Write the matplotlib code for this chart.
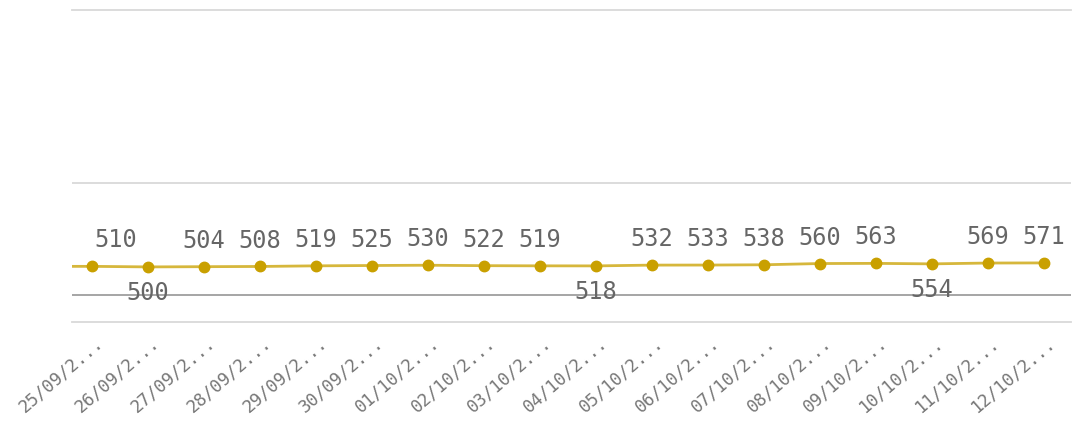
import matplotlib
matplotlib.use("Agg")
import matplotlib.pyplot as plt
from matplotlib.transforms import ScaledTranslation

# daily values, the first one sits just left of the visible window
dates = ["24/09/2...", "25/09/2...", "26/09/2...", "27/09/2...", "28/09/2...", "29/09/2...",
         "30/09/2...", "01/10/2...", "02/10/2...", "03/10/2...", "04/10/2...",
         "05/10/2...", "06/10/2...", "07/10/2...", "08/10/2...", "09/10/2...",
         "10/10/2...", "11/10/2...", "12/10/2..."]
values = [509, 510, 500, 504, 508, 519, 525, 530, 522, 519, 518,
          532, 533, 538, 560, 563, 554, 569, 571]
# where each value label goes
label_pos = ["none", "above_right", "below", "above", "above", "above", "above", "above",
             "above", "above", "below", "above", "above", "above", "above",
             "above", "below", "above", "above"]

x = list(range(-1, len(values) - 1))

fig = plt.figure(figsize=(10.76, 4.24), dpi=100)
ax = fig.add_axes([72/1076, 102/424, 999/1076, 312/424])

line_col = "#d6b73c"
dot_col = "#c9a000"
ax.plot(x, values, color=line_col, lw=2, zorder=3, clip_on=True)
ax.plot(x, values, 'o', color=dot_col, ms=7.5, zorder=4)

ax.set_xlim(-0.357, 17.48)
ax.set_ylim(-480, 5070)

ax.axhline(2000, color="#d9d9d9", lw=1.3, zorder=1)
ax.axhline(0, color="#9e9e9e", lw=1.3, zorder=2)
for s in ["left", "right"]:
    ax.spines[s].set_visible(False)
for s in ["top", "bottom"]:
    ax.spines[s].set_color("#d9d9d9")
    ax.spines[s].set_linewidth(1.3)

ax.set_yticks([])
ax.set_xticks(x[1:])
ax.set_xticklabels(dates[1:], rotation=41, ha="right", va="center",
                   rotation_mode="anchor", family="DejaVu Sans Mono",
                   fontsize=12.5, color="#777777")
ax.tick_params(axis="x", length=0, pad=13)
off = ScaledTranslation(9/100, 0, fig.dpi_scale_trans)
for lab in ax.get_xticklabels():
    lab.set_transform(lab.get_transform() + off)

fs = 17
for xi, v, pos in zip(x, values, label_pos):
    if pos == "none":
        continue
    if pos == "below":
        ax.annotate(str(v), (xi, v), xytext=(0, -10), textcoords="offset points",
                    ha="center", va="top", fontsize=fs, color="#666666",
                    family="DejaVu Sans Mono", zorder=5)
    elif pos == "above_right":
        ax.annotate(str(v), (xi, v), xytext=(2, 10), textcoords="offset points",
                    ha="left", va="bottom", fontsize=fs, color="#666666",
                    family="DejaVu Sans Mono", zorder=5)
    else:
        ax.annotate(str(v), (xi, v), xytext=(0, 10), textcoords="offset points",
                    ha="center", va="bottom", fontsize=fs, color="#666666",
                    family="DejaVu Sans Mono", zorder=5)

fig.savefig("out.png", dpi=100)
